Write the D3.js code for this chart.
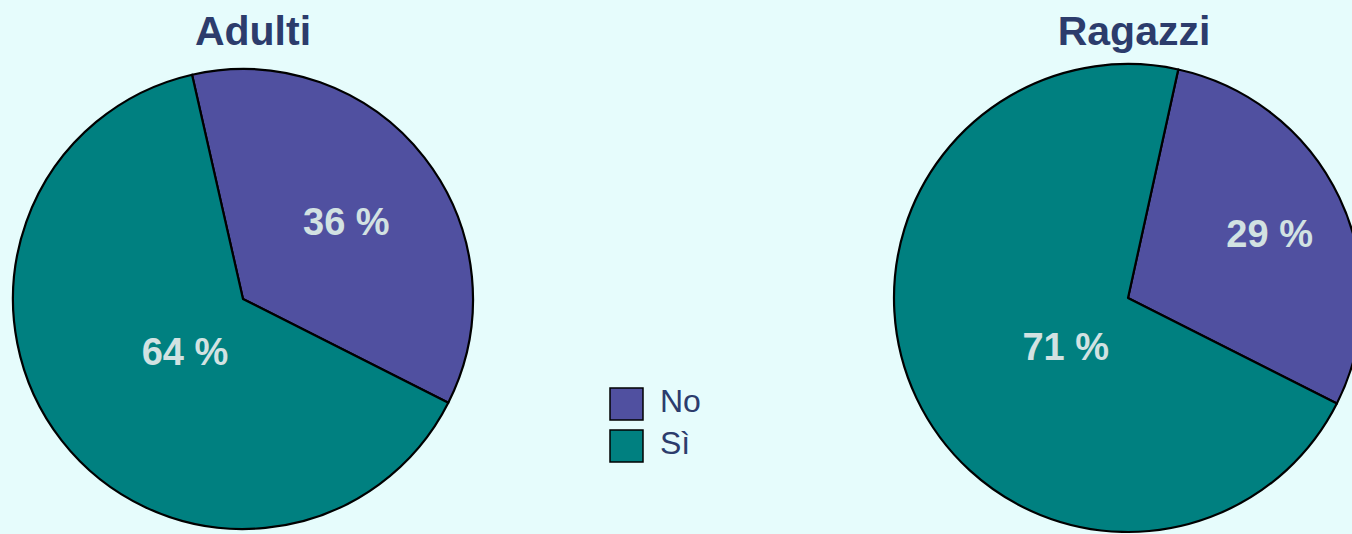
<!DOCTYPE html>
<html>
<head>
<meta charset="utf-8">
<script src="https://cdn.jsdelivr.net/npm/d3@7"></script>
<style>
  html, body { margin: 0; padding: 0; background: #e6fcfc; }
  svg { display: block; font-family: "Liberation Sans", Arial, sans-serif; }
</style>
</head>
<body>
<div id="chart"></div>
<script>
// ── Data ───────────────────────────────────────────────────────────────────
const categories = ["No", "Sì"];
const groups     = ["Adulti", "Ragazzi"];
const adulti     = [36, 64];
const ragazzi    = [29, 71];

// ── Style ──────────────────────────────────────────────────────────────────
const COLOR = { "No": "#5050a0", "Sì": "#008080" };
const TITLE_COLOR = "#2c3c6c";
const LABEL_COLOR = "#d2e2e2";

const width = 1352, height = 534;

const svg = d3.select("#chart")
  .append("svg")
  .attr("width", width)
  .attr("height", height);

svg.append("rect")
  .attr("width", width).attr("height", height)
  .attr("fill", "#e6fcfc");

// pie geometry per group (layout only)
const PIES = [
  { name: groups[0], values: adulti,  cx: 243,  cy: 299, r: 230, titleX: 253,  labelFrac: [0.57, 0.33] },
  { name: groups[1], values: ragazzi, cx: 1128, cy: 298, r: 234, titleX: 1134, labelFrac: [0.67, 0.33] },
];

// the "No" slice ends at the same angle in both pies
const END_ANGLE = 116.8 * Math.PI / 180;
// big-slice labels lean toward the lower left
const BIG_LABEL_ANGLE = 229 * Math.PI / 180;

PIES.forEach(p => {
  const total = d3.sum(p.values);
  const a0 = END_ANGLE - 2 * Math.PI * p.values[0] / total;

  const pie = d3.pie().sort(null)
    .startAngle(a0)
    .endAngle(a0 + 2 * Math.PI);

  const arcs = pie(p.values).map((a, i) => Object.assign(a, { key: categories[i] }));
  const arc = d3.arc().innerRadius(0).outerRadius(p.r);

  const g = svg.append("g").attr("transform", `translate(${p.cx},${p.cy})`);

  g.selectAll("path")
    .data(arcs)
    .join("path")
    .attr("d", arc)
    .attr("fill", d => COLOR[d.key])
    .attr("stroke", "#000")
    .attr("stroke-width", 2.2)
    .attr("stroke-linejoin", "round");

  g.selectAll("text.pct")
    .data(arcs)
    .join("text")
    .attr("class", "pct")
    .attr("transform", (d, i) => {
      let mid = (d.startAngle + d.endAngle) / 2;
      if (i === 1) mid = BIG_LABEL_ANGLE * 0.7 + mid * 0.3;
      const rr = p.r * p.labelFrac[i];
      return `translate(${rr * Math.sin(mid)},${-rr * Math.cos(mid) + 3})`;
    })
    .attr("text-anchor", "middle")
    .attr("dy", "0.36em")
    .attr("fill", LABEL_COLOR)
    .style("font-size", "38px")
    .style("font-weight", "bold")
    .text(d => d.value + " %");

  svg.append("text")
    .attr("x", p.titleX)
    .attr("y", 45)
    .attr("text-anchor", "middle")
    .attr("fill", TITLE_COLOR)
    .style("font-size", "41px")
    .style("font-weight", "bold")
    .text(p.name);
});

// ── Legend ─────────────────────────────────────────────────────────────────
const legend = svg.append("g").attr("transform", "translate(610,388)");
const item = legend.selectAll("g")
  .data(categories)
  .join("g")
  .attr("transform", (d, i) => `translate(0,${i * 42})`);

item.append("rect")
  .attr("width", 33).attr("height", 32)
  .attr("fill", d => COLOR[d])
  .attr("stroke", "#000")
  .attr("stroke-width", 1.5);

item.append("text")
  .attr("x", 50)
  .attr("y", 24)
  .attr("fill", TITLE_COLOR)
  .style("font-size", "32px")
  .text(d => d);
</script>
</body>
</html>
